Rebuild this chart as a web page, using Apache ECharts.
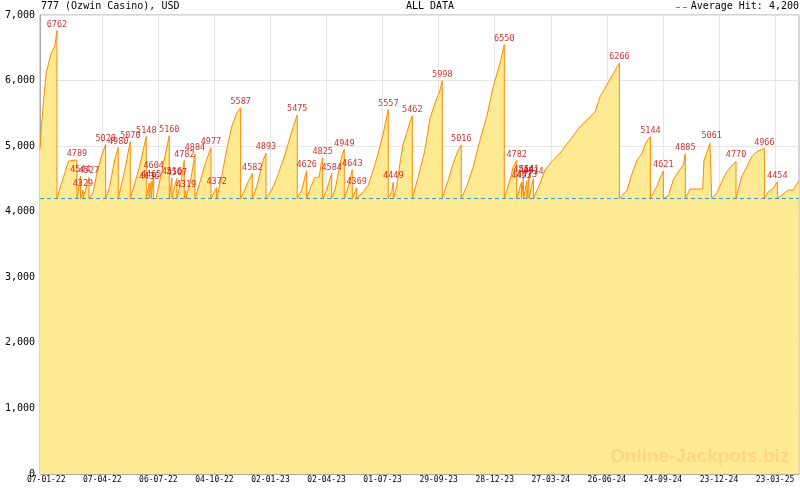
<!DOCTYPE html>
<html><head><meta charset="utf-8">
<script src="https://cdn.jsdelivr.net/npm/echarts@6/dist/echarts.min.js"></script>
<style>html,body{margin:0;padding:0;background:#fff}#c{width:800px;height:490px}</style>
</head><body><div id="c"></div>
<script>
// x values are days since 2022-01-07 (first tick label)
const tickDays = [0, 90, 180, 270, 360, 450, 540, 630, 720, 810, 900, 990, 1080, 1170];
const tickLabels = ['07-01-22','07-04-22','06-07-22','04-10-22','02-01-23','02-04-23','01-07-23',
  '29-09-23','28-12-23','27-03-24','26-06-24','24-09-24','23-12-24','23-03-25'];

const lineDays = [
  -10,-6.9,-3.7,0,8.0,13.5,17.2,17.2,
  20,29.5,36,49.3,49.3,
  55,55, 59,59,
  60.5,63.7,68.6,68.6,
  69.7,75,80.3,88.3,95.4,95.4,
  96.3,101.8,109.8,115.6,115.6,
  116.7,126.4,134.9,134.9,
  136.5,148.8,160.6,160.6,
  165.3,165.3,168.5,168.5,172.5,172.5,
  176.4,187.4,197.5,197.5,
  201.8,201.8,204.5,209.8,209.8,
  210.9,216.2,221.6,221.6,
  224.3,224.3,
  227,232.3,238.8,238.8,
  239.9,246.8,254.8,264.5,264.5,
  265.6,273.6,273.6,
  274.6,281.6,289.7,297.7,305.7,312.1,312.1,
  316.3,324.3,330.8,330.8,
  332.4,337.8,343.1,348.4,352.8,352.8,
  353.9,361.9,369.9,380.5,388.6,396.6,403,403,
  404.6,410.1,418.1,418.1,
  419.1,426.1,431.4,438.3,441.1,443.8,443.8,
  444.8,450.2,458.3,458.3,
  459.2,463.6,468.8,474.3,478.5,478.5,
  479.6,484.9,491.3,491.3,
  492.9,498.4,498.4,
  499.4,509,517,525,533.1,541.1,545,549.1,549.1,
  550.3,554.6,557.2,557.2,
  558.8,562.6,567.9,573.2,578.7,584,587.7,587.7,
  589.3,597.3,608,616.1,624.1,632.1,635.8,635.8,
  637.4,645.5,653.5,661.5,666.3,666.3,
  667.5,675,685.6,696.4,707.1,717.7,728.5,735.4,735.4,
  737.6,744.5,749.8,755.3,755.3,
  757.5,763,763,766.2,766.2,771.8,771.8,775,775,782.2,782.2,
  784.7,792.8,800.8,811.6,824.9,841,857,873.1,881.1,889.2,899.9,910.5,920.2,920.2,
  921.8,932.6,940.6,948.6,956.7,962,970,970,
  971,980.1,985.4,990.7,990.7,
  991.8,998.7,1006.7,1014.8,1022.8,1026,1026,
  1027.1,1033.5,1053.9,1056,1060.3,1065.6,1068.4,1068.4,
  1069.4,1076.4,1084.5,1092.5,1100.5,1107.4,1107.4,
  1108.5,1116.5,1124.6,1132.6,1140.6,1152.9,1152.9,
  1154,1159.3,1167.3,1173.7,1173.7,
  1175.4,1191.4,1199.4,1208
];
const lineValues = [
  4950,5400,5754,6115,6420,6516,6762,4200,
  4200,4586,4773,4789,4200,
  4544,4200, 4329,4200,
  4200,4350,4527,4200,
  4200,4285,4534,4839,5028,4200,
  4200,4381,4789,4980,4200,
  4200,4650,5070,4200,
  4200,4650,5148,4200,
  4436,4200,4465,4200,4604,4200,
  4200,4700,5160,4200,
  4516,4200,4330,4507,4200,
  4200,4450,4782,4200,
  4319,4200,
  4200,4500,4884,4200,
  4200,4450,4720,4977,4200,
  4200,4372,4200,
  4200,4534,4941,5296,5501,5587,4200,
  4281,4458,4582,4200,
  4200,4381,4586,4789,4893,4200,
  4200,4331,4509,4789,5043,5296,5475,4200,
  4200,4331,4626,4200,
  4200,4407,4525,4525,4712,4825,4200,
  4200,4331,4584,4200,
  4200,4331,4586,4839,4949,4200,
  4200,4381,4643,4200,
  4200,4369,4200,
  4200,4305,4407,4636,4891,5196,5373,5557,4200,
  4200,4305,4449,4200,
  4200,4381,4738,5043,5196,5373,5462,4200,
  4200,4534,4941,5424,5653,5856,5998,4200,
  4200,4484,4738,4941,5016,4200,
  4200,4381,4686,5094,5449,5906,6263,6550,4200,
  4200,4484,4686,4782,4200,
  4200,4453,4200,4544,4200,4473,4200,4541,4200,4514,4200,
  4200,4433,4636,4763,4895,5094,5296,5449,5525,5754,5932,6111,6266,4200,
  4200,4331,4586,4789,4891,5043,5144,4200,
  4200,4381,4509,4621,4200,
  4200,4244,4484,4610,4712,4885,4200,
  4200,4346,4346,4789,4891,5043,5061,4200,
  4200,4281,4458,4610,4697,4770,4200,
  4200,4534,4686,4839,4915,4966,4200,
  4200,4305,4357,4454,4200,
  4229,4331,4331,4468
];

const hitDays = [17.2,49.3,55,59,68.6,95.4,115.6,134.9,160.6,165.3,168.5,172.5,197.5,201.8,209.8,
  221.6,224.3,238.8,264.5,273.6,312.1,330.8,352.8,403,418.1,443.8,458.3,478.5,491.3,498.4,
  549.1,557.2,587.7,635.8,666.3,735.4,755.3,763,766.2,771.8,775,782.2,920.2,970,990.7,1026,
  1068.4,1107.4,1152.9,1173.7];
const hitValues = [6762,4789,4544,4329,4527,5028,4980,5070,5148,4436,4465,4604,5160,4516,4507,
  4782,4319,4884,4977,4372,5587,4582,4893,5475,4626,4825,4584,4949,4643,4369,
  5557,4449,5462,5998,5016,6550,4782,4453,4544,4473,4541,4514,6266,5144,4621,4885,
  5061,4770,4966,4454];

const averageHit = 4200;

const X_MIN = -10, X_MAX = 1208.5;
const mono = '"DejaVu Sans Mono", monospace';
const lineData = lineDays.map((d, i) => [d, lineValues[i]]);
const hitData = hitDays.map((d, i) => [d, hitValues[i]]);
const minorTicks = [];
for (let k = 0; k * 90 / 7 <= X_MAX; k++) minorTicks.push(k * 90 / 7);

const chart = echarts.init(document.getElementById('c'));
chart.setOption({
  animation: false,
  backgroundColor: '#fff',
  grid: { left: 40, right: 1, top: 15, bottom: 16, show: true, borderColor: '#aaa', borderWidth: 1,
          backgroundColor: 'transparent', outerBoundsMode: 'none' },
  xAxis: [
    { type: 'value', position: 'bottom', min: X_MIN, max: X_MAX,
      axisLine: { show: true, onZero: false, lineStyle: { color: '#aaa', width: 1 } },
      axisTick: { show: true, inside: true, length: 6, customValues: tickDays, lineStyle: { color: '#aaa' } },
      axisLabel: { show: true, customValues: tickDays, margin: 2, color: '#000', fontFamily: mono, fontSize: 8,
        formatter: v => { const i = tickDays.indexOf(Math.round(v)); return i >= 0 ? tickLabels[i] : ''; } },
      splitLine: { show: false } },
    { type: 'value', position: 'bottom', min: X_MIN, max: X_MAX,
      axisLine: { show: false, onZero: false },
      axisTick: { show: true, inside: true, length: 3, customValues: minorTicks, lineStyle: { color: '#aaa' } },
      axisLabel: { show: false }, splitLine: { show: false } }
  ],
  yAxis: {
    type: 'value', min: 0, max: 7000, interval: 1000,
    axisLine: { show: true, onZero: false, lineStyle: { color: '#aaa', width: 1 } },
    axisTick: { show: false },
    axisLabel: { color: '#000', fontFamily: mono, fontSize: 10, margin: 5,
      formatter: v => v.toLocaleString('en-US') },
    splitLine: { show: true, lineStyle: { color: '#e6e6e6', width: 1 } }
  },
  series: [
    { type: 'line', xAxisIndex: 0, data: [], z: 1, silent: true,
      markLine: { silent: true, z: 1, symbol: 'none', label: { show: false }, animation: false,
        lineStyle: { type: 'solid', color: '#e6e6e6', width: 1 },
        data: tickDays.slice(1).map(d => ({ xAxis: d })) } },
    { type: 'line', xAxisIndex: 0, data: lineData, showSymbol: false, symbol: 'none', z: 2,
      lineStyle: { color: '#FF8A00', width: 1 },
      areaStyle: { color: '#FFEA94', opacity: 1, origin: 'start' },
      markLine: { silent: true, symbol: 'none', label: { show: false },
        lineStyle: { type: [4, 3], color: '#3399CC', width: 1 },
        data: [{ yAxis: averageHit }] } },
    { type: 'scatter', xAxisIndex: 0, data: hitData, symbolSize: 1, z: 6,
      itemStyle: { color: 'rgba(0,0,0,0)' },
      label: { show: true, position: 'top', distance: 1, color: '#C00000', fontFamily: mono, fontSize: 8.5,
        formatter: p => String(p.value[1]) },
      labelLayout: { hideOverlap: false } }
  ],
  graphic: [
    { type: 'text', x: 41, y: 6.5, style: { text: '777 (Ozwin Casino), USD', font: '10px ' + mono, fill: '#000', align: 'left', verticalAlign: 'middle' } },
    { type: 'text', x: 430, y: 6.5, style: { text: 'ALL DATA', font: '10px ' + mono, fill: '#000', align: 'center', verticalAlign: 'middle' } },
    { type: 'line', shape: { x1: 676, y1: 7.5, x2: 688, y2: 7.5 }, style: { stroke: '#3399CC', lineWidth: 1, lineDash: [4, 3] } },
    { type: 'text', x: 799, y: 6.5, style: { text: 'Average Hit: 4,200', font: '10px ' + mono, fill: '#000', align: 'right', verticalAlign: 'middle' } },
    { type: 'text', x: 789.5, y: 457, z: 100, style: { text: 'Online-Jackpots.biz', font: 'bold 19px "Liberation Sans", Arial, sans-serif', fill: '#FFD680', align: 'right', verticalAlign: 'middle' } }
  ]
});
</script>
</body></html>
